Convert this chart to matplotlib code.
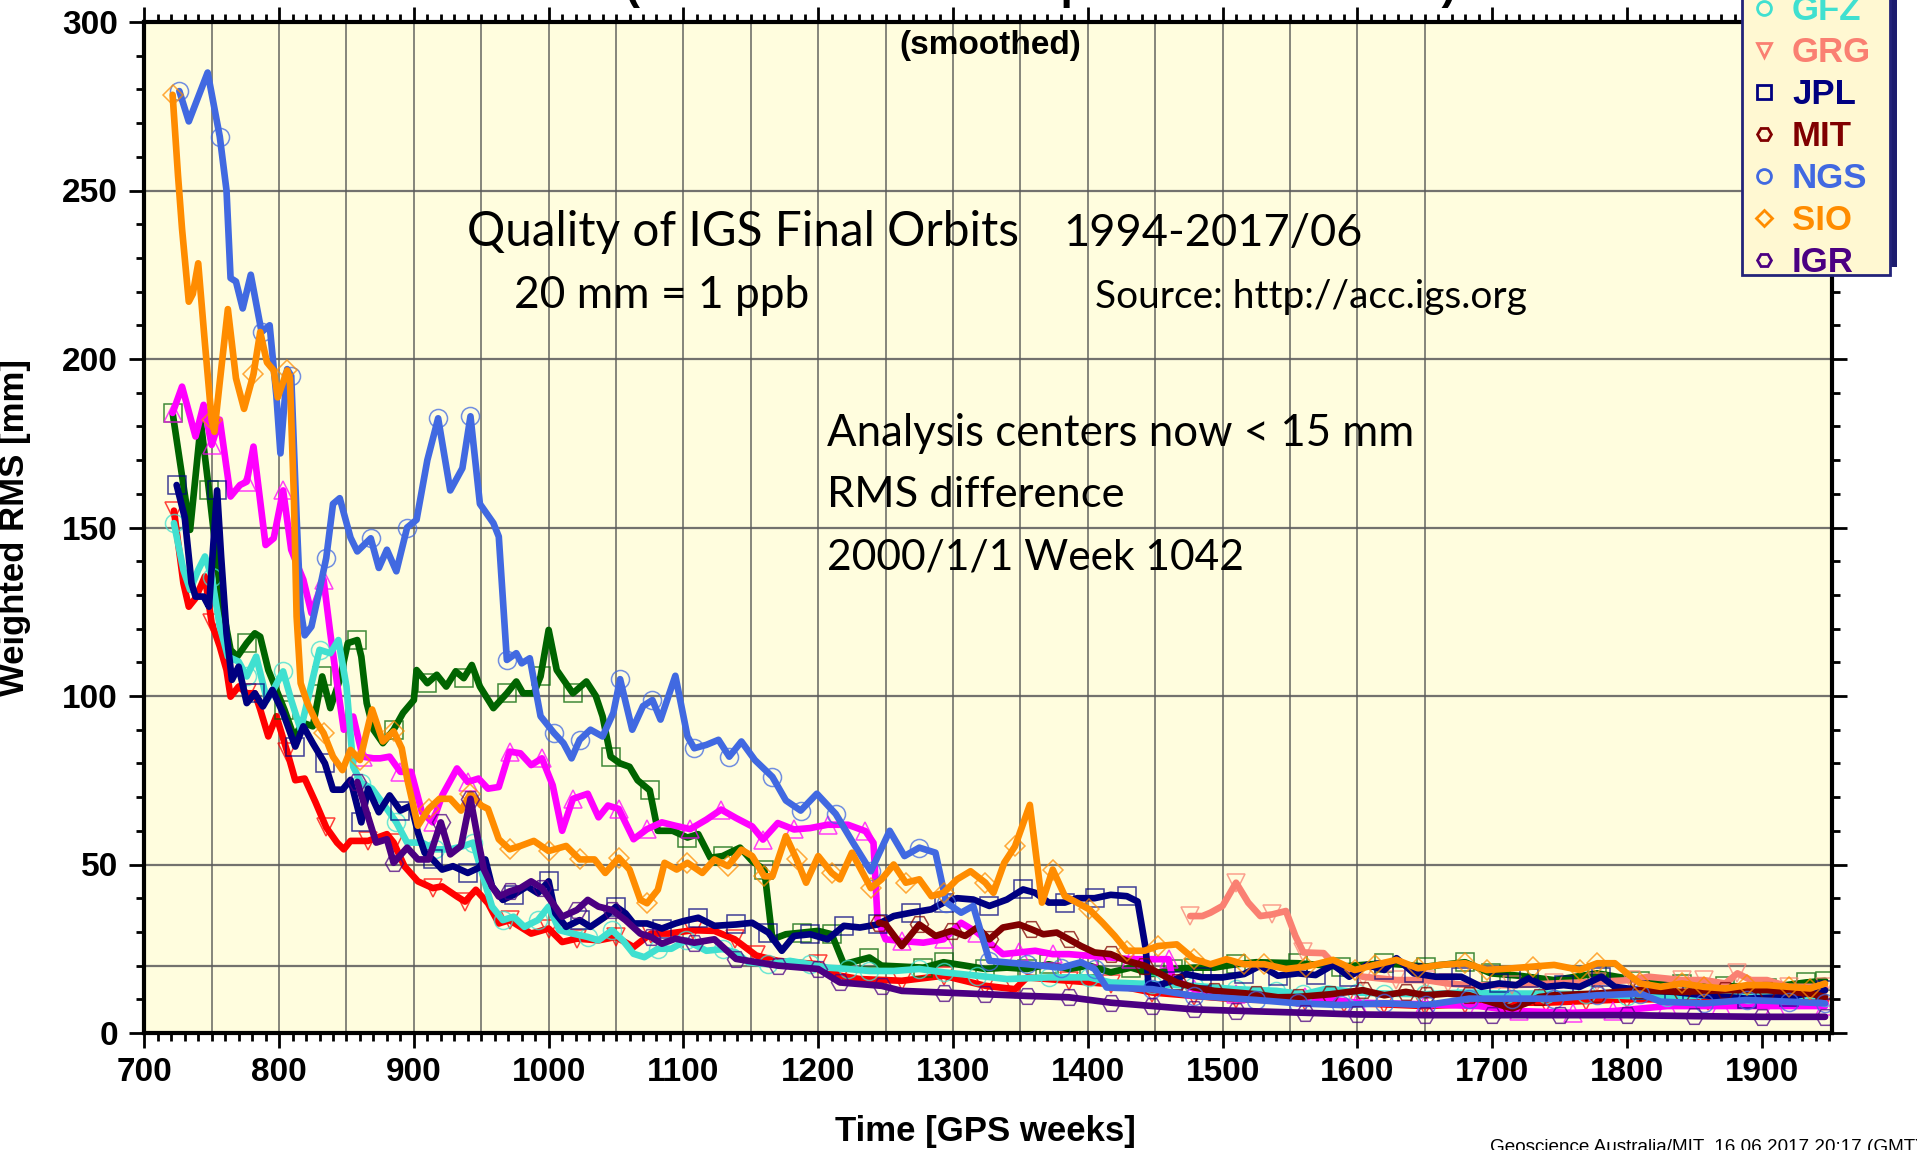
import numpy as np
import matplotlib
matplotlib.use("Agg")
import matplotlib.pyplot as plt
from matplotlib.lines import Line2D
from matplotlib.patches import Rectangle

# ---------------- data ----------------
names = ["COD", "EMR", "ESA", "GFZ", "GRG", "JPL", "MIT", "NGS", "SIO", "IGR"]
colors = ["#FF0000", "#006400", "#FF00FF", "#40E0D0", "#FA8072",
          "#000080", "#800000", "#4169E1", "#FF8C00", "#4B0082"]
markers = ["v", "s", "^", "o", "v", "s", "H", "o", "D", "H"]

cod_w = [722, 729, 733, 738, 745, 750, 756, 761, 764, 770, 776, 782, 786, 792, 798, 806, 812, 819, 827, 835,
         843, 848, 853, 866, 880, 885, 893, 903, 914, 921, 932, 938, 946, 955, 963, 971, 979, 987, 1000, 1010,
         1021, 1037, 1050, 1063, 1076, 1089, 1107, 1123, 1138, 1154, 1170, 1200, 1216, 1231, 1262, 1293, 1324,
         1346, 1355, 1386, 1417, 1448, 1479, 1510, 1561, 1590, 1620, 1650, 1680, 1710, 1740, 1770, 1800, 1830,
         1860, 1890, 1920, 1947]
cod_v = [155, 133.5, 126.5, 129, 135.5, 121.6, 114.7, 107.7, 99.8, 102.8, 100.8, 100.8, 96, 88, 94, 83.5, 75,
         75.5, 68.5, 61, 56.5, 54.5, 57, 57, 59, 56.5, 49.5, 45, 43, 43.5, 40.5, 39, 42.5, 38.5, 32.5, 33.5, 31.5,
         29.5, 31, 27, 28, 27.5, 28.5, 25.5, 29.5, 29.5, 30.5, 30.3, 27.8, 23, 21.4, 20.4, 17, 16, 15.5, 17, 14,
         13, 16.5, 15.5, 14.5, 12, 11, 10, 9.6, 9, 8.5, 8, 8.5, 9, 9, 9.5, 10, 10, 9.5, 10, 10, 10]

emr_w = [721, 734, 742, 748, 753, 757, 764, 769, 776, 782, 786, 792, 798, 804, 811, 818, 825, 832, 838, 845,
         851, 858, 861, 865, 870, 877, 885, 892, 900, 902, 910, 917, 924, 931, 937, 943, 949, 959, 969, 976, 981,
         989, 994, 1000, 1006, 1011, 1018, 1028, 1035, 1040, 1046, 1053, 1060, 1066, 1075, 1081, 1092, 1103,
         1111, 1120, 1129, 1142, 1151, 1160, 1166, 1176, 1188, 1200, 1210, 1219, 1238, 1247, 1278, 1293, 1309,
         1324, 1340, 1355, 1371, 1386, 1401, 1417, 1432, 1448, 1463, 1479, 1494, 1510, 1525, 1556, 1588, 1620,
         1651, 1680, 1699, 1720, 1746, 1778, 1810, 1841, 1873, 1904, 1933, 1947]
emr_v = [184, 149.3, 181, 161, 143.4, 128.5, 113.7, 111.7, 115.7, 118.6, 117.6, 107.7, 101.8, 95.9, 88, 92, 91,
         105.8, 96.4, 104.8, 115.7, 116.6, 111.7, 97.9, 90, 86, 90, 95, 98.8, 107.7, 103.8, 106.3, 102.8, 107.3,
         105.3, 109.2, 102.8, 96.4, 100.8, 104.3, 100.8, 100.8, 105.8, 119.6, 107.7, 104.8, 100.8, 104.3, 100,
         94, 82, 80, 79, 75, 72, 60, 60, 58, 59, 52, 52.5, 55, 51, 48.5, 27.8, 29.3, 29.8, 30.3, 29.3, 20.4,
         22.4, 20, 19.4, 21, 20, 19, 19.4, 19, 20.4, 19, 20, 18, 19.4, 17.5, 19, 19.4, 19.4, 20.4, 21, 20.7,
         19.7, 20.7, 19.7, 21, 17.7, 17, 15.7, 17.7, 15.5, 14.5, 14, 13.5, 15, 15.5]

esa_w = [721, 728, 738, 744, 750, 756, 764, 771, 776, 781, 790, 796, 803, 809, 814, 818, 824, 833, 838, 843,
         848, 855, 862, 870, 875, 882, 890, 898, 906, 914, 921, 932, 940, 948, 955, 963, 971, 979, 987, 995,
         1003, 1010, 1018, 1029, 1037, 1044, 1052, 1063, 1073, 1084, 1094, 1105, 1117, 1128, 1139, 1151, 1159,
         1170, 1182, 1194, 1207, 1222, 1235, 1241, 1244, 1250, 1262, 1278, 1293, 1306, 1318, 1327, 1337, 1349,
         1361, 1374, 1386, 1401, 1417, 1432, 1460, 1463, 1479, 1510, 1561, 1600, 1650, 1690, 1720, 1760, 1790,
         1830, 1870, 1910, 1947]
esa_v = [184, 191.8, 177, 186.4, 174.5, 182, 159.2, 162.6, 163.6, 174, 144.8, 146.8, 161, 143.4, 138.4, 134.5,
         124.6, 134.5, 118.6, 103.8, 90, 93.9, 82, 81.5, 81.5, 82, 77.5, 77.5, 65.5, 62.5, 70.5, 78.5, 74.5,
         75.5, 72.5, 73, 83.5, 83, 79.5, 81.5, 73.5, 60, 69.5, 71, 64, 67.5, 66.5, 57.5, 60.5, 62.5, 61.5, 60.5,
         63.3, 66.3, 63.8, 61.3, 57.4, 62.3, 60.4, 60.8, 61.8, 61.8, 59.9, 56.4, 33.7, 27.8, 27.3, 26.8, 27.8,
         32.7, 29.8, 26.8, 23.4, 23.9, 24.4, 23.4, 23.4, 22.9, 22.4, 21.9, 21.9, 16, 13, 11.5, 10.6, 9, 8.5, 8,
         6.5, 6, 6.5, 8, 8, 8, 8]

gfz_w = [722, 729, 734, 740, 745, 750, 756, 762, 770, 776, 783, 791, 797, 803, 809, 816, 823, 830, 838, 844,
         850, 855, 861, 869, 880, 887, 895, 906, 916, 927, 937, 944, 952, 958, 966, 974, 982, 992, 1000, 1008,
         1018, 1029, 1037, 1047, 1055, 1063, 1071, 1081, 1091, 1102, 1117, 1129, 1139, 1148, 1163, 1179, 1194,
         1207, 1222, 1238, 1256, 1275, 1293, 1318, 1340, 1371, 1401, 1417, 1448, 1479, 1510, 1540, 1560, 1578,
         1600, 1620, 1650, 1680, 1710, 1740, 1770, 1800, 1830, 1860, 1890, 1920, 1947]
gfz_v = [151.3, 137.4, 131.5, 137.4, 141.4, 135.4, 120.6, 111.7, 110.2, 105.8, 111.7, 98.8, 102.8, 107.3, 98.8,
         90, 101.8, 113.7, 112.7, 116.6, 102.8, 79, 74.2, 72.5, 66.5, 62.5, 56.5, 56.5, 54.5, 54.5, 55.5, 56.5,
         45.5, 37.5, 33.5, 34.5, 31.5, 33.5, 37.5, 30.5, 29.5, 28.5, 27.5, 30.5, 27.5, 23.5, 22.5, 25, 25, 27.5,
         24.4, 24.9, 23.9, 21, 20.4, 21.4, 20.4, 19.4, 19, 18.4, 18.4, 19, 18, 17, 16, 16.5, 16.5, 15, 14.5, 14,
         13, 12.5, 11.5, 13.2, 12, 11.7, 11.5, 12, 11.7, 11.7, 11.5, 11, 10.7, 11.2, 11.5, 11.2, 10.8]

grg_w = [1476, 1485, 1491, 1500, 1510, 1519, 1528, 1537, 1547, 1554, 1560, 1575, 1582, 1604, 1629, 1651, 1667,
         1683, 1715, 1746, 1778, 1803, 1816, 1841, 1857, 1873, 1882, 1892, 1904, 1920, 1947]
grg_v = [34.7, 34.7, 35.7, 37.7, 44.6, 38.7, 34.7, 35.2, 36.2, 28.8, 23.9, 23.7, 20.7, 16.7, 15.7, 15.7, 14.7,
         14.2, 14.2, 14.7, 15.2, 15.7, 16.7, 15.7, 15.7, 14.7, 17.7, 15.7, 15.7, 13.7, 13.7]

jpl_w = [724, 730, 735, 738, 744, 748, 754, 757, 761, 765, 770, 776, 782, 788, 795, 803, 812, 818, 825, 834,
         840, 847, 853, 861, 866, 874, 882, 890, 898, 903, 908, 914, 921, 929, 940, 948, 953, 958, 966, 974,
         984, 992, 1000, 1005, 1013, 1023, 1031, 1042, 1050, 1057, 1063, 1073, 1084, 1094, 1100, 1111, 1123,
         1139, 1151, 1163, 1173, 1182, 1194, 1207, 1219, 1231, 1244, 1256, 1269, 1284, 1293, 1303, 1315, 1327,
         1340, 1352, 1361, 1371, 1383, 1392, 1405, 1417, 1429, 1437, 1443, 1445, 1451, 1463, 1473, 1485, 1500,
         1516, 1528, 1541, 1556, 1569, 1582, 1594, 1607, 1620, 1629, 1642, 1658, 1677, 1692, 1705, 1718, 1727,
         1740, 1753, 1765, 1781, 1791, 1810, 1835, 1857, 1889, 1920, 1947]
jpl_v = [162.6, 153, 133.5, 129.5, 129.5, 126.5, 161, 141.4, 118.6, 104.8, 108.7, 97.9, 100.8, 96.9, 101.8,
         94.9, 85, 91, 86, 80, 72.2, 72.2, 75.1, 62.5, 72.5, 65.5, 70.5, 66, 67.5, 59.5, 53.5, 51.5, 48.5, 49.5,
         47.5, 49, 51.5, 43.5, 39.5, 41, 43.5, 41.5, 45, 35.5, 31.5, 33.5, 31.5, 34.5, 37.5, 35.5, 32.5, 32.5,
         31, 32.5, 33.2, 34.2, 31.8, 32.2, 32.7, 29.8, 24.4, 28.8, 29.3, 27.8, 31.8, 31.3, 32.2, 34.7, 35.7,
         36.7, 38.7, 40, 39.6, 37.7, 39.6, 42.6, 41.6, 38.7, 38.7, 40, 40, 41, 40.6, 39, 24.9, 14.5, 14, 15.5,
         17.5, 16.5, 16.5, 17.5, 20, 17, 17.7, 17.2, 20.2, 16.7, 20.2, 18.7, 22.2, 17.7, 16.7, 16.7, 13.7, 14.7,
         14.2, 16.2, 13.7, 14.2, 13.7, 16.7, 13.7, 12.7, 12.2, 11.2, 10.2, 10.7, 12.7]

mit_w = [1245, 1250, 1262, 1275, 1287, 1299, 1309, 1318, 1327, 1337, 1349, 1358, 1367, 1377, 1386, 1395, 1405,
         1417, 1429, 1442, 1454, 1466, 1479, 1494, 1510, 1525, 1541, 1556, 1580, 1604, 1620, 1636, 1651, 1667,
         1683, 1702, 1715, 1725, 1735, 1746, 1778, 1810, 1841, 1873, 1904, 1936, 1947]
mit_v = [32.7, 32.2, 25.8, 32.2, 28.8, 30.3, 28.8, 31.3, 27.8, 31.3, 32.2, 30.8, 29.3, 29.8, 27.8, 25.8, 23.9,
         23.4, 21.4, 20, 17.5, 15, 13.5, 12.5, 12, 11.5, 10.6, 10.7, 11.5, 12.7, 11.2, 12.2, 11.2, 11.7, 11.2,
         8.8, 7.3, 8.8, 10.7, 11.2, 11.7, 12.7, 12.2, 12.7, 12.7, 11.7, 10.7]

ngs_w = [726, 733, 747, 756, 761, 764, 768, 773, 779, 787, 793, 798, 801, 806, 809, 813, 816, 819, 824, 830,
         835, 840, 845, 853, 858, 868, 874, 880, 887, 895, 902, 910, 918, 927, 936, 942, 949, 959, 963, 969,
         976, 980, 986, 994, 1004, 1011, 1017, 1023, 1031, 1040, 1048, 1053, 1062, 1070, 1077, 1083, 1094, 1103,
         1108, 1117, 1126, 1134, 1143, 1153, 1166, 1176, 1187, 1199, 1213, 1225, 1239, 1253, 1264, 1275, 1287,
         1295, 1306, 1315, 1327, 1355, 1380, 1395, 1405, 1414, 1448, 1479, 1525, 1556, 1588, 1620, 1651, 1683,
         1715, 1746, 1778, 1810, 1825, 1857, 1889, 1920, 1947]
ngs_v = [279.5, 270.5, 285, 266, 250, 224, 223, 215, 225, 208, 210, 189, 172, 197, 195, 153, 125.5, 118, 120.6,
         131.5, 141, 157, 158.7, 147, 142.9, 146.8, 138, 143.4, 137, 150, 152.3, 170, 182.4, 161, 167.6, 183, 157,
         151.3, 147.3, 110.7, 112.7, 109.7, 111.2, 94, 89, 86, 81.5, 87, 90, 88, 95, 105, 90, 97, 98.8, 93, 106,
         88, 84.5, 85.5, 87, 82, 86.5, 81, 76, 69, 66, 71, 65, 57, 48, 60, 52.5, 55, 53.5, 38.7, 35.7, 37.7,
         21.4, 20.4, 19.4, 21, 19, 13.5, 13, 11, 9.8, 8.8, 8.3, 8.8, 8.3, 10.2, 10.2, 10.2, 11.2, 11.7, 9.3,
         8.8, 9.8, 9.3, 8.8]

sio_w = [721, 725, 728, 733, 736, 740, 745, 750, 752, 756, 762, 768, 774, 781, 786, 791, 796, 799, 806, 808,
         811, 813, 816, 821, 828, 833, 840, 847, 853, 860, 869, 877, 885, 891, 895, 903, 911, 919, 927, 935,
         942, 950, 955, 963, 971, 979, 989, 1000, 1013, 1023, 1034, 1042, 1052, 1060, 1068, 1073, 1081, 1086,
         1095, 1103, 1114, 1123, 1133, 1143, 1151, 1160, 1166, 1176, 1184, 1191, 1200, 1210, 1216, 1225, 1233,
         1239, 1247, 1256, 1265, 1275, 1284, 1293, 1303, 1313, 1324, 1330, 1338, 1346, 1357, 1366, 1374, 1383,
         1392, 1401, 1411, 1420, 1429, 1442, 1452, 1466, 1479, 1491, 1503, 1516, 1531, 1547, 1562, 1582, 1598,
         1613, 1629, 1645, 1661, 1680, 1696, 1715, 1730, 1746, 1765, 1778, 1791, 1800, 1810, 1825, 1841, 1857,
         1873, 1889, 1904, 1920, 1936, 1947]
sio_v = [278.4, 254.5, 238.6, 217, 219.3, 228.4, 204.5, 181.8, 178.4, 193.2, 214.8, 194.3, 185.2, 195.5, 208,
         199, 196.6, 188.6, 196.6, 194.3, 159, 123.6, 103.8, 97.9, 92, 89, 82, 78, 84, 81, 96, 86.5, 89.5, 84.5,
         75.5, 61.5, 66.5, 69.5, 69.5, 66, 71, 67.5, 66.5, 57.5, 54.5, 55.5, 57, 54, 55.5, 51.5, 51.5, 47.5, 52,
         48.5, 39.5, 38.5, 42.5, 50.5, 48.5, 50.5, 47.5, 51.5, 49.5, 54.4, 52.5, 46.5, 46.5, 58.4, 51.5, 44.6,
         52.5, 47.5, 45.6, 53.5, 47.5, 43, 45.6, 50, 44.6, 45.6, 40.6, 41.6, 45.6, 48, 44.6, 41.6, 50.5, 55.4,
         67.7, 38.7, 48.5, 40.6, 38.7, 36.7, 32.7, 28.8, 24.4, 24.4, 25.8, 26.3, 21.9, 20.4, 21.9, 20.4, 20.4,
         19, 19.7, 21.7, 18.7, 20.2, 21.7, 19.2, 20.2, 20.7, 18.7, 19.2, 19.7, 20.2, 18.7, 20.7, 20.7, 17.7,
         14.7, 13.7, 14.7, 13.7, 13.2, 14.2, 14.2, 13.7, 13.2, 14.7]

igr_w = [858, 872, 880, 885, 895, 903, 911, 920, 927, 935, 942, 948, 952, 958, 963, 971, 979, 987, 995, 1003,
         1010, 1021, 1029, 1037, 1047, 1057, 1068, 1076, 1084, 1094, 1108, 1123, 1139, 1170, 1200, 1216, 1247,
         1262, 1293, 1324, 1355, 1386, 1417, 1448, 1479, 1510, 1561, 1600, 1650, 1700, 1750, 1800, 1850, 1900,
         1947]
igr_v = [74.5, 56.5, 57.5, 50.5, 55, 51.5, 51.5, 62.5, 53, 55.5, 69.5, 56.5, 48.5, 43.5, 40.5, 42, 43, 45, 43,
         38.5, 34.5, 36.5, 39.5, 37.5, 36.5, 33.5, 29.5, 28.5, 26.5, 28, 26.8, 27.8, 22, 20, 19, 15, 14, 12.5,
         12, 11.5, 11, 10.6, 9, 8, 7, 6.6, 6, 5.5, 5.3, 5.3, 5.3, 5.3, 5, 4.8, 4.8]

series_w = [cod_w, emr_w, esa_w, gfz_w, grg_w, jpl_w, mit_w, ngs_w, sio_w, igr_w]
series_v = [cod_v, emr_v, esa_v, gfz_v, grg_v, jpl_v, mit_v, ngs_v, sio_v, igr_v]

xticks = list(range(700, 2000, 100))
yticks = list(range(0, 301, 50))

# ---------------- figure ----------------
W, H = 1917, 1150
fig = plt.figure(figsize=(W / 100, H / 100), dpi=100)
fig.patch.set_facecolor("white")
ax = fig.add_axes([144.3 / W, 117 / H, (1831.8 - 144.3) / W, 1011 / H])
ax.set_facecolor("#FFFDDE")
ax.set_xlim(700, 1952)
ax.set_ylim(0, 300)

# grid
for gx in range(750, 1651, 50):
    ax.plot([gx, gx], [0, 300], color="#4a4a4a", lw=1.1, zorder=1, alpha=0.85)
for gy in [20, 50, 100, 150, 200, 250]:
    ax.axhline(gy, color="#5a5a5a", lw=1.6, zorder=1, alpha=0.85)


def mark_idx(w, step):
    w = np.asarray(w)
    targets = np.arange(w[0], w[-1], step)
    idx = np.clip(np.searchsorted(w, targets), 0, len(w) - 1)
    return sorted(set(idx.tolist()) | {0})


for i, (w, v) in enumerate(zip(series_w, series_v)):
    c = matplotlib.colors.to_rgba(colors[i])
    mec = (c[0], c[1], c[2], 0.75)
    ax.plot(w, v, color=colors[i], lw=4.8, solid_joinstyle="round", solid_capstyle="round",
            marker=markers[i], markersize=13 if markers[i] != "D" else 10, mfc="none", mec=mec, mew=1.1,
            markevery=mark_idx(w, 27), zorder=3 + i)

# ticks / spines
for s in ax.spines.values():
    s.set_linewidth(3)
    s.set_color("black")
    s.set_zorder(20)
ax.set_xticks(xticks)
ax.set_yticks(yticks)
ax.set_xticks(np.arange(700, 1953, 10), minor=True)
ax.set_yticks(np.arange(0, 301, 10), minor=True)
ax.tick_params(which="both", direction="out", top=True, right=True, width=2, colors="black")
ax.tick_params(which="major", length=11, pad=6)
ax.tick_params(which="minor", length=6)
ax.tick_params(axis="y", which="major", pad=8)
for lab in ax.get_xticklabels() + ax.get_yticklabels():
    lab.set_fontfamily("Liberation Sans")
    lab.set_fontweight("bold")
    lab.set_fontsize(24)

# axis labels
fig.text(985 / W, 1 - 1131 / H, "Time [GPS weeks]", ha="center", va="center",
         fontsize=25, fontweight="bold", family="Liberation Sans")
fig.text(15 / W, 1 - 528 / H, "Weighted RMS [mm]", ha="center", va="center", rotation=90,
         fontsize=25, fontweight="bold", family="Liberation Sans")

# titles
fig.text(996 / W, 1 + 1 / H, "IGS (AC Final orbits compared to IGS Final)", ha="center", va="baseline",
         fontsize=32, fontweight="bold", family="Liberation Sans")
ax.text(1327.5, 293.0, "(smoothed)", ha="center", va="center", fontsize=24, fontweight="bold",
        family="Liberation Sans", zorder=30)

# annotations
ann = dict(family="Lato", color="black", zorder=30, va="baseline", ha="left")
ax.text(939.5, 233.6, "Quality of IGS Final Orbits", fontsize=34.4, **ann)
ax.text(1382, 233.6, "1994-2017/06", fontsize=32.5, **ann)
ax.text(974, 215.2, "20 mm = 1 ppb", fontsize=31.9, **ann)
ax.text(1405, 215.2, "Source: http://acc.igs.org", fontsize=28, **ann)
ax.text(1206.4, 174.2, "Analysis centers now < 15 mm", fontsize=31.5, **ann)
ax.text(1206.4, 156.0, "RMS difference", fontsize=31.3, **ann)
ax.text(1206.4, 137.6, "2000/1/1 Week 1042", fontsize=30.6, **ann)

# footer (cut by the lower edge, as in the original)
fig.text(1490 / W, 1 - 1152.5 / H, "Geoscience Australia/MIT  16.06.2017 20:17 (GMT)", ha="left",
         va="baseline", fontsize=13.6, family="Liberation Sans")

# legend box with shadow (extends above the figure top)
box_l, box_r, box_b = 1742, 1890, 275
shadow = Rectangle(((box_l + 7) / W, 1 - (box_b - 8) / H), (box_r - box_l) / W, 600 / H,
                   transform=fig.transFigure, facecolor="#1C1C6E", edgecolor="none", zorder=40)
frame = Rectangle((box_l / W, 1 - box_b / H), (box_r - box_l) / W, 600 / H, transform=fig.transFigure,
                  facecolor="#FFF8D2", edgecolor="#23237A", lw=2, zorder=41)
fig.patches.extend([shadow, frame])

handles = [Line2D([], [], ls="none", marker=markers[i], ms=10 if markers[i] != "D" else 8, mfc="none",
                  mec=colors[i], mew=2) for i in range(len(names))]
leg = fig.legend(handles, names, loc="lower left", bbox_to_anchor=(1750 / W, 1 - 279 / H),
                 bbox_transform=fig.transFigure, frameon=False, borderpad=0, labelspacing=0.26,
                 handlelength=0.8, handletextpad=0.41, borderaxespad=0,
                 prop=dict(family="Liberation Sans", weight="bold", size=25))
leg.set_zorder(42)
for t, c in zip(leg.get_texts(), colors):
    t.set_color(c)

fig.savefig("out.png", dpi=100)
